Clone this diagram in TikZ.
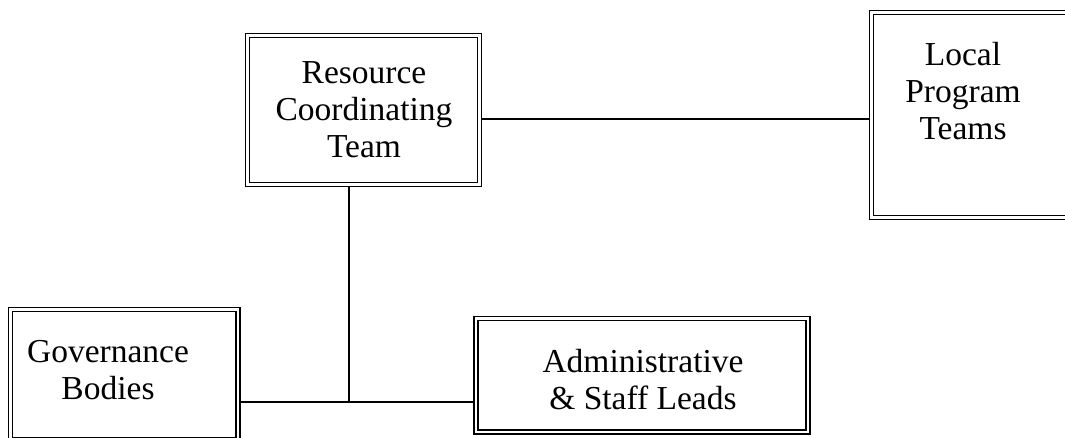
\documentclass[tikz,border=0pt]{standalone}
\usepackage{fontspec}
\setmainfont{Liberation Serif}
\begin{document}
\begin{tikzpicture}[x=1pt,y=-1pt,
  dbox/.style={draw, double, line width=1.7pt, double distance=2.2pt, inner sep=0pt, outer sep=2.8pt, fill=white},
  lbl/.style={align=center, inner sep=0pt, font=\fontsize{33.5}{37}\selectfont},
  conn/.style={line width=2pt}]
\useasboundingbox (0,0) rectangle (1065,438);
\clip (0,0) rectangle (1065,438);
% boxes
\node[dbox, minimum width=232pt, minimum height=149pt] (res) at (363.5,110) {};
\node[dbox, minimum width=203.5pt, minimum height=205pt] (loc) at (973.25,115) {};
\node[dbox, minimum width=227.5pt, minimum height=130pt] (gov) at (124.25,374.5) {};
\node[dbox, minimum width=332pt, minimum height=113.5pt] (adm) at (642,375.25) {};
% texts
\node[lbl] (rest) at (364,110) {Resource\\Coordinating\\Team};
\node[lbl] (loct) at (963,91) {Local\\Program\\Teams};
\node[lbl] (govt) at (108,370) {Governance\\Bodies};
\node[lbl] (admt) at (643,380) {Administrative\\\& Staff Leads};
% connectors
\coordinate (j) at (349,402);
\draw[conn] ([yshift=-9pt]res.east) -- ([yshift=-9pt]res.east -| loc.west);
\draw[conn] (res.south -| j) -- (j);
\draw[conn] (gov.east |- j) -- (adm.west |- j);
\end{tikzpicture}
\end{document}
